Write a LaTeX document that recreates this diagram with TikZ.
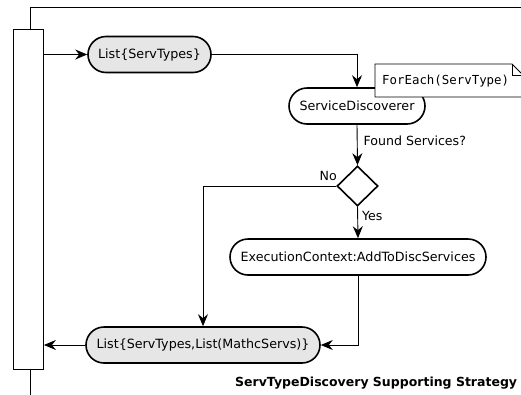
\documentclass[tikz,border=0pt]{standalone}
\usepackage{fontspec}
\setmainfont{DejaVu Sans}
\newfontfamily\monofont{DejaVu Sans Mono}
\usetikzlibrary{arrows.meta,shapes.misc,shapes.geometric}
\definecolor{actfill}{HTML}{E6E6E6}
\begin{document}
\begin{tikzpicture}[x=1pt,y=-1pt,
  every node/.style={inner sep=0pt},
  action/.style={rounded rectangle,draw,line width=1.6pt,minimum height=36pt,font=\fontsize{12.7}{15}\selectfont},
  objflow/.style={action,fill=actfill},
  decision/.style={diamond,draw,line width=1.6pt,minimum width=41pt,minimum height=40pt},
  flow/.style={line width=0.9pt,-{Stealth[length=12pt,width=10pt,inset=4pt]}},
  plain/.style={line width=0.9pt},
  lbl/.style={font=\fontsize{12.6}{15}\selectfont}]
\useasboundingbox (0,0) rectangle (521,394);
\begin{scope}
\clip (0,0) rectangle (521,394);
% frame and activity bar
\node[draw,line width=0.9pt,minimum width=30pt,minimum height=340pt,anchor=north west] (bar) at (13,29) {};
\coordinate (tl) at (30,7);
\coordinate (tr) at (530,7);
\coordinate (bt) at (30,29);
\coordinate (bb) at (30,369);
\coordinate (btm) at (30,400);
\draw[plain] (bt) -- (tl) -- (tr);
\draw[plain] (bb) -- (btm);
% action nodes
\node[objflow,minimum width=123pt] (types) at (149.5,54.5) {List\{ServTypes\}};
\node[action,minimum width=136pt] (disc) at (357,106) {ServiceDiscoverer};
\node[decision] (found) at (357.5,186) {};
\node[action,minimum width=256pt] (ctx) at (358,257) {ExecutionContext:AddToDiscServices};
\node[objflow,minimum width=234pt] (res) at (203,345) {List\{ServTypes,List(MathcServs)\}};
% note with folded corner
\draw[line width=0.9pt,fill=white] (375,64) -- (512,64) -- (532,84) -- (532,97) -- (375,97) -- cycle;
\draw[line width=0.9pt] (512,64) -- (512,75) -- (523,75);
\node[anchor=west,font=\monofont\fontsize{12.4}{14}\selectfont] (note) at (382,81) {ForEach(ServType)};
% connectors
\draw[flow] (bar.east |- types.west) -- (types.west);
\draw[flow] (types.east) -| (disc.north);
\draw[flow] (disc.south) -- (found.north) node[pos=0.4,right=6pt,lbl] (q) {Found Services?};
\draw[flow] (found.west) -| (res.north);
\node[lbl,anchor=south east] (no) at (337,181) {No};
\draw[flow] (found.south) -- (ctx.north) node[pos=0.3,right=4pt,lbl] (yes) {Yes};
\draw[flow] (ctx.south) |- (res.east);
\draw[flow] (res.west) -- (bar.east |- res.west);
% caption
\node[anchor=base west,font=\bfseries\fontsize{12.5}{15}\selectfont] (cap) at (235,386) {ServTypeDiscovery Supporting Strategy};
\end{scope}
\end{tikzpicture}
\end{document}
